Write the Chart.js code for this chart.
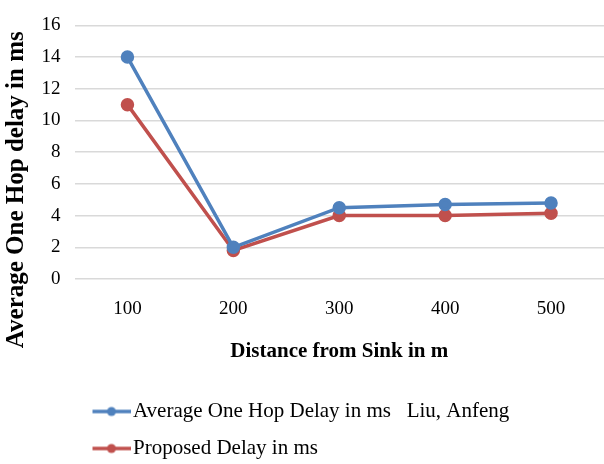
<!DOCTYPE html>
<html>
<head>
<meta charset="utf-8">
<script src="https://cdn.jsdelivr.net/npm/chart.js@4.4.0/dist/chart.umd.min.js"></script>
<style>
    html, body { margin: 0; padding: 0; background: #fff; }
    #wrap { width: 604px; height: 464px; }
</style>
</head>
<body>
<div id="wrap"><canvas id="lineChart"></canvas></div>
<script>
const distances = ['100', '200', '300', '400', '500'];
const liuDelay = [14, 2, 4.5, 4.7, 4.8];
const proposedDelay = [11, 1.8, 4, 4, 4.15];

const blue = '#4f81bd';
const red = '#c0504d';
const serif = "'Liberation Serif', 'Times New Roman', serif";

// legend marker: short line with a dot in the middle, like Excel
// (left part of the canvas is left empty to nudge the marker right)
const makeMarker = function (color) {
    const c = document.createElement('canvas');
    c.width = 48;
    c.height = 12;
    const ctx = c.getContext('2d');
    ctx.strokeStyle = color;
    ctx.lineWidth = 3.5;
    ctx.beginPath();
    ctx.moveTo(10, 6);
    ctx.lineTo(48, 6);
    ctx.stroke();
    ctx.fillStyle = color;
    ctx.beginPath();
    ctx.arc(29, 6, 4.5, 0, Math.PI * 2);
    ctx.fill();
    return c;
}
const markers = [makeMarker(blue), makeMarker(red)];

const lineChart = document.getElementById('lineChart');

new Chart(lineChart, {
    type: 'line',
    data: {
        labels: distances,
        datasets: [{
            label: 'Average One Hop Delay in ms   Liu, Anfeng',
            data: liuDelay,
            borderColor: blue,
            backgroundColor: blue,
            borderWidth: 3.5,
            pointRadius: 5,
            pointHoverRadius: 5,
        }, {
            label: 'Proposed Delay in ms',
            data: proposedDelay,
            borderColor: red,
            backgroundColor: red,
            borderWidth: 3.5,
            pointRadius: 5,
            pointHoverRadius: 5,
        }],
    },
    options: {
        responsive: true,
        maintainAspectRatio: false,
        animation: false,
        layout: {
            autoPadding: false,
            padding: { top: 16, right: 0, left: 0, bottom: -5 }
        },
        plugins: {
            tooltip: { enabled: false },
            title: { display: false },
            legend: {
                position: 'bottom',
                align: 'start',
                fullSize: false,
                labels: {
                    color: '#000',
                    font: { family: serif, size: 21 },
                    usePointStyle: true,
                    pointStyleWidth: 32,
                    padding: 16,
                    generateLabels: function (chart) {
                        const items = Chart.defaults.plugins.legend.labels.generateLabels(chart);
                        items.forEach(function (item, i) {
                            item.pointStyle = markers[i];
                        });
                        return items;
                    }
                }
            }
        },
        scales: {
            y: {
                min: 0,
                max: 16,
                ticks: {
                    stepSize: 2,
                    color: '#000',
                    padding: 14,
                    font: { family: serif, size: 19 }
                },
                grid: {
                    color: '#d9d9d9',
                    lineWidth: 1.5,
                    drawTicks: false
                },
                border: { display: false },
                title: {
                    display: true,
                    text: 'Average One Hop delay in ms            ',
                    color: '#000',
                    font: { family: serif, size: 25, weight: 'bold', lineHeight: 0.9 },
                    padding: { top: 5, bottom: 0 }
                }
            },
            x: {
                offset: true,
                ticks: {
                    color: '#000',
                    padding: 11,
                    font: { family: serif, size: 19 }
                },
                grid: { display: false },
                border: { display: false },
                title: {
                    display: true,
                    text: 'Distance from Sink in m',
                    color: '#000',
                    font: { family: serif, size: 21, weight: 'bold' },
                    padding: { top: 7, bottom: 21 }
                }
            }
        }
    }
});
</script>
</body>
</html>
